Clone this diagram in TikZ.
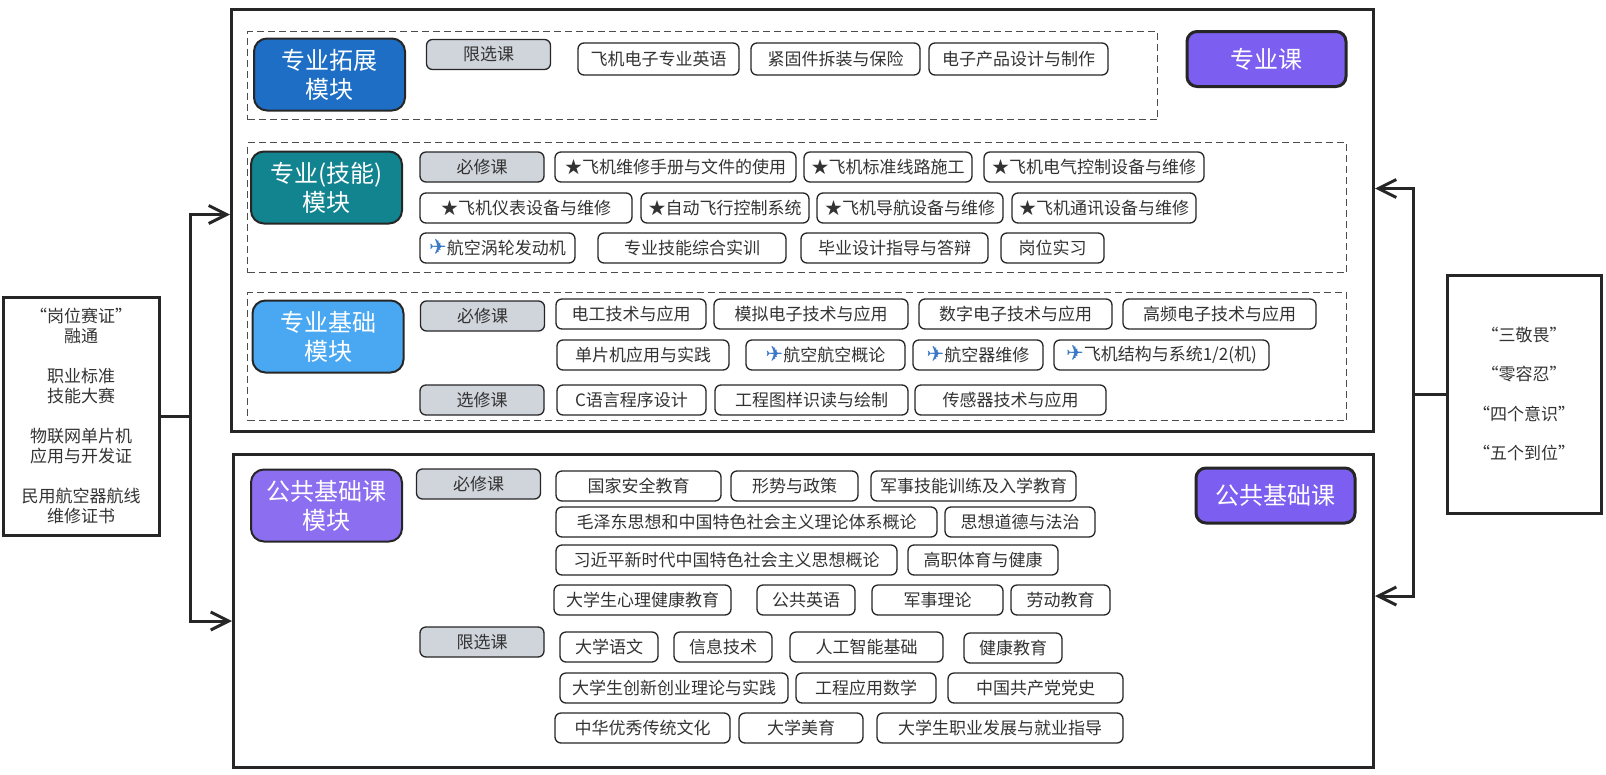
\documentclass[tikz,border=0pt]{standalone}
\usepackage{fontspec}
\setmainfont{Noto Sans CJK SC}
\newfontfamily\planefont{DejaVu Sans}
\usetikzlibrary{arrows.meta}
\definecolor{extblue}{HTML}{1D6EC4}
\definecolor{skillteal}{HTML}{12848F}
\definecolor{baseblue}{HTML}{4AA8F2}
\definecolor{pubpurple}{HTML}{8C6EF0}
\definecolor{labpurple}{HTML}{7C5FF0}
\definecolor{taggray}{HTML}{D0D4DB}
\definecolor{planeblue}{HTML}{3A78C6}
\newcommand\jet{{\planefont\fontsize{21}{20}\selectfont\color{planeblue}✈}}

\begin{document}
\begin{tikzpicture}[x=1pt, y=-1pt,
  every node/.style={font=\fontsize{17}{20}\selectfont, inner sep=0pt, text=black!80},
  crs/.style={draw=black!85, line width=1.3pt, rounded corners=6pt, minimum height=30, fill=white},
  tag/.style={crs, fill=taggray, minimum width=124},
  modl/.style={draw=black!85, line width=2pt, rounded corners=13pt, text=white, align=center,
    font=\fontsize{24}{29}\selectfont, minimum width=151, minimum height=72},
  lab/.style={draw=black!85, line width=3pt, rounded corners=10pt, fill=labpurple, text=white,
    font=\fontsize{24}{29}\selectfont, minimum width=159, minimum height=55},
  frame/.style={draw=black!85, line width=3pt, anchor=north west},
  zone/.style={draw=black!70, dash pattern=on 7pt off 4pt, line width=1pt, anchor=north west},
  conn/.style={draw=black!85, line width=3pt, -{Straight Barb[length=18pt, width=18pt]}}]
\useasboundingbox (0,0) rectangle (1606,774);

\node[frame, minimum width=1142, minimum height=422] (pro) at (230,8) {};
\node[frame, minimum width=1140, minimum height=313] (pub) at (232,453) {};
\node[zone, minimum width=910, minimum height=88] (zext) at (247,31) {};
\node[zone, minimum width=1099, minimum height=130] (zskill) at (247,142) {};
\node[zone, minimum width=1099, minimum height=128] (zbase) at (247,292) {};

\node[modl, fill=extblue] (mext) at (329.5,74.5) {专业拓展\\模块};
\node[modl, fill=skillteal] (mskill) at (326.5,187.5) {专业(技能)\\模块};
\node[modl, fill=baseblue] (mbase) at (328,336.5) {专业基础\\模块};
\node[modl, fill=pubpurple] (mpub) at (326.5,505.5) {公共基础课\\模块};
\node[lab] (lpro) at (1266.5,59) {专业课};
\node[lab] (lpub) at (1275.5,495.5) {公共基础课};

\node[tag] (t1) at (488.5,54.5) {限选课};
\node[tag] (t2) at (482,167) {必修课};
\node[tag] (t3) at (482.5,316) {必修课};
\node[tag] (t4) at (482,400) {选修课};
\node[tag] (t5) at (478.5,484) {必修课};
\node[tag] (t6) at (482,642) {限选课};

\node[crs, minimum width=161, minimum height=32] (e1) at (658.5,59) {飞机电子专业英语};
\node[crs, minimum width=169, minimum height=32] (e2) at (835.5,59) {紧固件拆装与保险};
\node[crs, minimum width=179, minimum height=32] (e3) at (1018.5,59) {电子产品设计与制作};

\node[crs, minimum width=241] (s1) at (675.5,167) {★飞机维修手册与文件的使用};
\node[crs, minimum width=168] (s2) at (888,167) {★飞机标准线路施工};
\node[crs, minimum width=220] (s3) at (1094,167) {★飞机电气控制设备与维修};
\node[crs, minimum width=212] (s4) at (526,208) {★飞机仪表设备与维修};
\node[crs, minimum width=168] (s5) at (725,208) {★自动飞行控制系统};
\node[crs, minimum width=186] (s6) at (910,208) {★飞机导航设备与维修};
\node[crs, minimum width=184] (s7) at (1104,208) {★飞机通讯设备与维修};
\node[crs, minimum width=155] (s8) at (497.5,248) {\jet{}航空涡轮发动机};
\node[crs, minimum width=188] (s9) at (692,248) {专业技能综合实训};
\node[crs, minimum width=187] (s10) at (894.5,248) {毕业设计指导与答辩};
\node[crs, minimum width=103] (s11) at (1052.5,248) {岗位实习};

\node[crs, minimum width=150] (b1) at (631,314) {电工技术与应用};
\node[crs, minimum width=194] (b2) at (811,314) {模拟电子技术与应用};
\node[crs, minimum width=193] (b3) at (1015.5,314) {数字电子技术与应用};
\node[crs, minimum width=193] (b4) at (1219.5,314) {高频电子技术与应用};
\node[crs, minimum width=172] (b5) at (643,355) {单片机应用与实践};
\node[crs, minimum width=159] (b6) at (825.5,355) {\jet{}航空航空概论};
\node[crs, minimum width=130] (b7) at (978,355) {\jet{}航空器维修};
\node[crs, minimum width=215] (b8) at (1161.5,355) {\jet{}飞机结构与系统1/2(机)};
\node[crs, minimum width=149] (b9) at (631.5,400) {C语言程序设计};
\node[crs, minimum width=193] (b10) at (811.5,400) {工程图样识读与绘制};
\node[crs, minimum width=191] (b11) at (1010.5,400) {传感器技术与应用};

\node[crs, minimum width=165] (p1) at (638.5,486) {国家安全教育};
\node[crs, minimum width=127] (p2) at (794.5,486) {形势与政策};
\node[crs, minimum width=205] (p3) at (973.5,486) {军事技能训练及入学教育};
\node[crs, minimum width=381] (p4) at (746.5,522) {毛泽东思想和中国特色社会主义理论体系概论};
\node[crs, minimum width=150] (p5) at (1020,522) {思想道德与法治};
\node[crs, minimum width=341] (p6) at (726.5,560) {习近平新时代中国特色社会主义思想概论};
\node[crs, minimum width=150] (p7) at (983,560) {高职体育与健康};
\node[crs, minimum width=177] (p8) at (642.5,600) {大学生心理健康教育};
\node[crs, minimum width=98] (p9) at (806,600) {公共英语};
\node[crs, minimum width=131] (p10) at (937.5,600) {军事理论};
\node[crs, minimum width=99] (p11) at (1060.5,600) {劳动教育};
\node[crs, minimum width=98] (p12) at (609,647) {大学语文};
\node[crs, minimum width=98] (p13) at (723,647) {信息技术};
\node[crs, minimum width=153] (p14) at (866.5,647) {人工智能基础};
\node[crs, minimum width=98] (p15) at (1013,648) {健康教育};
\node[crs, minimum width=228] (p16) at (674,688) {大学生创新创业理论与实践};
\node[crs, minimum width=140] (p17) at (866,688) {工程应用数学};
\node[crs, minimum width=175] (p18) at (1035.5,688) {中国共产党党史};
\node[crs, minimum width=175] (p19) at (642.5,728) {中华优秀传统文化};
\node[crs, minimum width=124] (p20) at (801,728) {大学美育};
\node[crs, minimum width=246] (p21) at (1000,728) {大学生职业发展与就业指导};

\node[draw=black!85, line width=3pt, minimum width=156, minimum height=238, align=center]
  (cert) at (81,416) {“岗位赛证”\\融通\\[20pt]职业标准\\技能大赛\\[20pt]物联网单片机\\应用与开发证\\[20pt]民用航空器航线\\维修证书};
\node[draw=black!85, line width=3pt, minimum width=154, minimum height=238, align=center,
  font=\fontsize{17}{39.5}\selectfont] (ethic) at (1524,394) {“三敬畏”\\“零容忍”\\“四个意识”\\“五个到位”};

\coordinate (lj) at (190,416);
\coordinate (rj) at (1413,394);
\draw[conn] (cert.east) -- (lj) |- ([yshift=6pt]pro.west);
\draw[conn] (lj) |- ([yshift=-10pt]pub.west);
\draw[conn] (ethic.west) -- (rj) |- ([yshift=32pt]pro.east);
\draw[conn] (rj) |- ([yshift=15pt]pub.east);
\end{tikzpicture}
\end{document}
